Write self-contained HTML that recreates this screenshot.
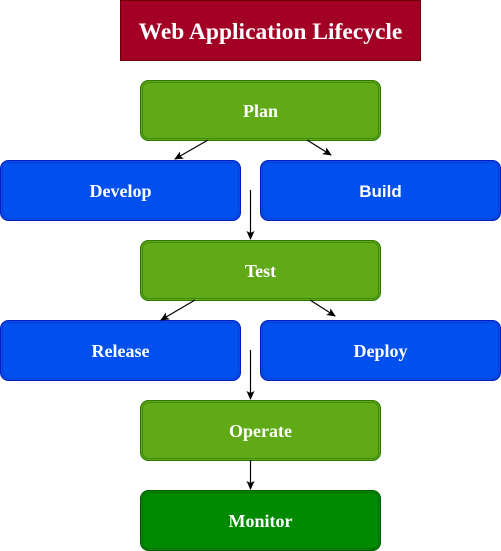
<!DOCTYPE html>
<html><head><meta charset="utf-8"><style>
html,body{margin:0;padding:0;background:#fff;}
svg{display:block;}
.s{font-family:"Liberation Serif",serif;font-weight:bold;fill:#fff;font-size:18px;text-anchor:middle;}
</style></head><body>
<svg width="501" height="551" viewBox="0 0 501 551" xmlns="http://www.w3.org/2000/svg">
<defs><marker id="a" markerWidth="10" markerHeight="10" refX="8" refY="5" orient="auto" markerUnits="userSpaceOnUse"><path d="M0,1 L9,5 L0,9 L2,5 Z" fill="#000"/></marker></defs>
<rect x="120.5" y="0.5" width="300" height="60" fill="#A20025" stroke="#6F0000"/>
<text x="270.5" y="39" class="s" style="font-size:23.5px">Web Application Lifecycle</text>
<g stroke-width="1">
<rect x="140.5" y="80.5" width="240" height="60" rx="8" fill="#60A917" stroke="#2D7600"/>
<rect x="142.5" y="82.5" width="236" height="56" rx="6" fill="none" stroke="#3f8a0c"/>
<rect x="0.5" y="160.5" width="240" height="60" rx="8" fill="#0050EF" stroke="#001DBC"/>
<rect x="2.5" y="162.5" width="236" height="56" rx="6" fill="none" stroke="#0a3fd0"/>
<rect x="260.5" y="160.5" width="240" height="60" rx="8" fill="#0050EF" stroke="#001DBC"/>
<rect x="262.5" y="162.5" width="236" height="56" rx="6" fill="none" stroke="#0a3fd0"/>
<rect x="140.5" y="240.5" width="240" height="60" rx="8" fill="#60A917" stroke="#2D7600"/>
<rect x="142.5" y="242.5" width="236" height="56" rx="6" fill="none" stroke="#3f8a0c"/>
<rect x="0.5" y="320.5" width="240" height="60" rx="8" fill="#0050EF" stroke="#001DBC"/>
<rect x="2.5" y="322.5" width="236" height="56" rx="6" fill="none" stroke="#0a3fd0"/>
<rect x="260.5" y="320.5" width="240" height="60" rx="8" fill="#0050EF" stroke="#001DBC"/>
<rect x="262.5" y="322.5" width="236" height="56" rx="6" fill="none" stroke="#0a3fd0"/>
<rect x="140.5" y="400.5" width="240" height="60" rx="8" fill="#60A917" stroke="#2D7600"/>
<rect x="142.5" y="402.5" width="236" height="56" rx="6" fill="none" stroke="#3f8a0c"/>
<rect x="140.5" y="490.5" width="240" height="60" rx="8" fill="#008A00" stroke="#005700"/>
<rect x="142.5" y="492.5" width="236" height="56" rx="6" fill="none" stroke="#006f00"/>
</g>
<text x="260.5" y="117" class="s">Plan</text>
<text x="120.5" y="197" class="s">Develop</text>
<text x="380.5" y="197" class="s" style="font-family:'Liberation Sans',sans-serif;font-size:17px">Build</text>
<text x="260.5" y="277" class="s">Test</text>
<text x="120.5" y="357" class="s">Release</text>
<text x="380.5" y="357" class="s">Deploy</text>
<text x="260.5" y="437" class="s">Operate</text>
<text x="260.5" y="527" class="s">Monitor</text>
<g stroke="#000" stroke-width="1.2" fill="none" marker-end="url(#a)">
<line x1="208" y1="140" x2="175" y2="159"/>
<line x1="307" y1="140" x2="331" y2="155"/>
<line x1="250.5" y1="190" x2="250.5" y2="239"/>
<line x1="195" y1="300" x2="161" y2="320"/>
<line x1="310" y1="300" x2="335" y2="316"/>
<line x1="250.5" y1="350" x2="250.5" y2="399"/>
<line x1="250.5" y1="460" x2="250.5" y2="489"/>
</g>
</svg>
</body></html>
